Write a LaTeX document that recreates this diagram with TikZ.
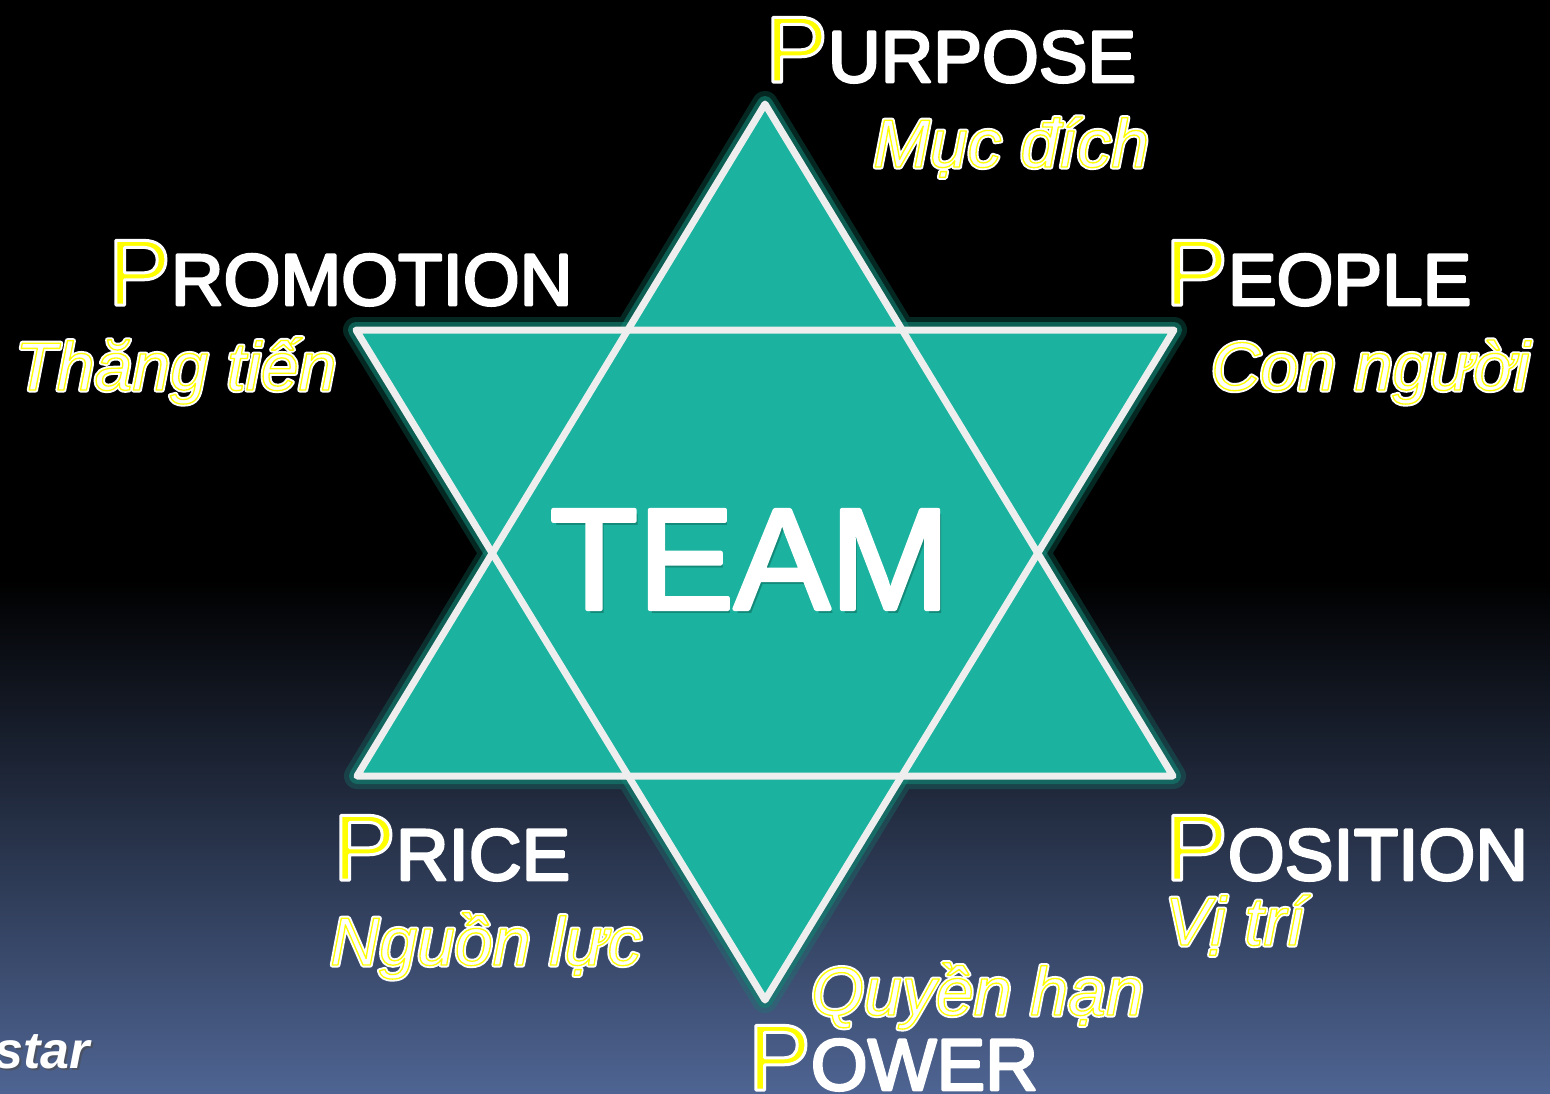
\documentclass[tikz,border=0pt]{standalone}
\usepackage{fontspec}
\setmainfont{Liberation Sans}
\definecolor{tealfill}{RGB}{27,179,159}
\definecolor{glowc}{RGB}{18,130,114}
\definecolor{edgec}{RGB}{238,238,238}
\definecolor{bgbot}{RGB}{78,100,146}
\definecolor{bgmid}{RGB}{32,41,62}
\definecolor{teamshadow}{RGB}{12,110,96}
\newcommand\bigP[1]{{\fontsize{94}{94}\selectfont\special{pdf:literal direct 1 j 2 Tr 3 w 1 1 1 RG 1 1 0 rg}#1\special{pdf:literal direct 0 Tr 1 1 1 rg 1 1 1 RG}}}
\newcommand\capsrest[1]{{\fontsize{73}{73}\selectfont\special{pdf:literal direct 1 j 2 Tr 2.6 w 1 1 1 RG 1 1 1 rg}#1\special{pdf:literal direct 0 Tr}}}
\newcommand\vt[1]{{\fontsize{68}{68}\selectfont\itshape\rlap{\special{pdf:literal direct 1 j 2 Tr 5 w 1 1 1 RG 1 1 1 rg}#1\special{pdf:literal direct 0 Tr}}\special{pdf:literal direct 1 j 2 Tr 1.3 w 1 1 0 RG 1 1 1 rg}#1\special{pdf:literal direct 0 Tr 1 1 1 RG}}}
\newcommand\teamtxt[1]{{\fontsize{144}{144}\selectfont\special{pdf:literal direct 1 j 2 Tr 4 w 1 1 1 RG 1 1 1 rg}#1\special{pdf:literal direct 0 Tr}}}
\tikzset{
  lbl/.style={anchor=base west, inner sep=0pt, text=white},
  glowline/.style={draw=glowc, line join=round},
  staredge/.style={draw=edgec, line width=7, line join=round, line cap=round},
}
\begin{document}
\begin{tikzpicture}[x=1pt, y=-1pt]
\useasboundingbox (0,0) rectangle (1550,1093);
% background
\fill[black] (0,0) rectangle (1550,1093);
\shade[top color=black, middle color=bgmid, bottom color=bgbot] (0,580) rectangle (1550,1093);
% star corners
\coordinate (A) at (765,104);
\coordinate (B) at (1173,776);
\coordinate (C) at (357,776);
\coordinate (D) at (356,330);
\coordinate (E) at (1174,330);
\coordinate (F) at (765,1000);
% glow
\path[glowline, line width=26, opacity=0.3] (A)--(B)--(C)--cycle (D)--(E)--(F)--cycle;
\path[glowline, line width=16, opacity=0.6] (A)--(B)--(C)--cycle;
\path[glowline, line width=16, opacity=0.6] (D)--(E)--(F)--cycle;
% fill
\fill[tealfill] (A)--(B)--(C)--cycle;
\fill[tealfill] (D)--(E)--(F)--cycle;
% edges
\path[staredge] (A)--(B)--(C)--cycle;
\path[staredge] (D)--(E)--(F)--cycle;
% centre text
\node[anchor=base, inner sep=0pt, text=teamshadow, opacity=0.6] (teamsh) at (753,613) {\fontsize{144}{144}\selectfont TEAM};
\node[anchor=base, inner sep=0pt, text=white] (team) at (750,609) {\teamtxt{TEAM}};
% labels
\node[lbl] (purpose) at (765,82) {\bigP{P}\capsrest{URPOSE}};
\node[lbl] (mucdich) at (873,167) {\vt{Mục đích}};
\node[lbl] (promotion) at (108,305) {\bigP{P}\capsrest{ROMOTION}};
\node[lbl] (thangtien) at (15,390) {\vt{Thăng tiến}};
\node[lbl] (people) at (1165,305) {\bigP{P}\capsrest{EOPLE}};
\node[lbl] (connguoi) at (1211,390) {\vt{Con người}};
\node[lbl] (price) at (333,880) {\bigP{P}\capsrest{RICE}};
\node[lbl] (nguonluc) at (330,965) {\vt{Nguồn lực}};
\node[lbl] (position) at (1165,880) {\bigP{P}\capsrest{OSITION}};
\node[lbl] (vitri) at (1165,945) {\vt{Vị trí}};
\node[lbl] (quyenhan) at (811,1015) {\vt{Quyền hạn}};
\node[lbl] (power) at (748,1090) {\bigP{P}\capsrest{OWER}};
\node[anchor=base east, inner sep=0pt, text=black!70, opacity=0.6] (starsh) at (92,1070) {\fontsize{52}{52}\selectfont\bfseries\itshape star};
\node[anchor=base east, inner sep=0pt, text=white] (startxt) at (90,1068) {\fontsize{52}{52}\selectfont\bfseries\itshape star};
\end{tikzpicture}
\end{document}
